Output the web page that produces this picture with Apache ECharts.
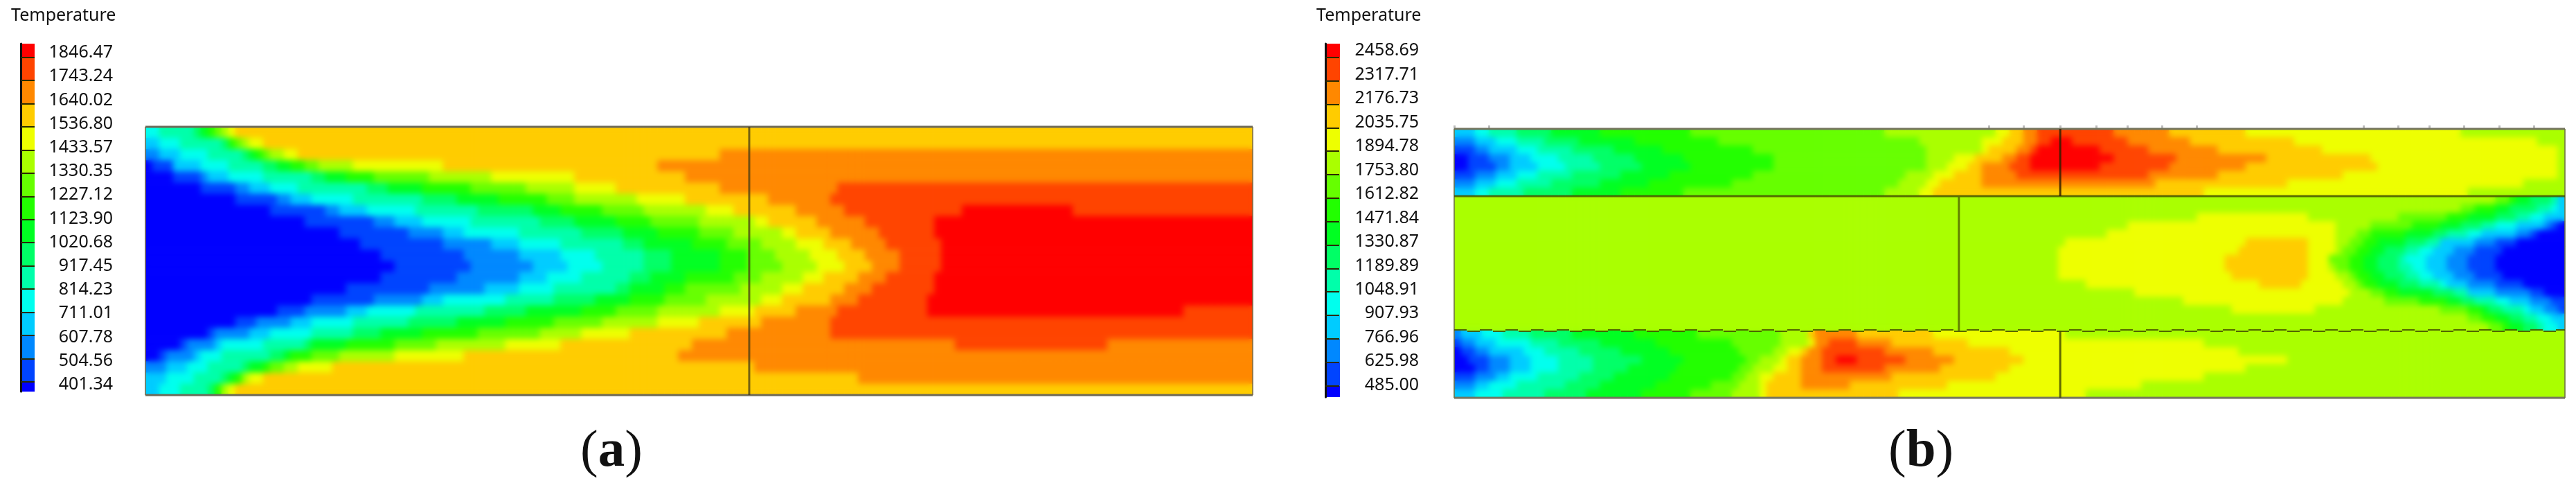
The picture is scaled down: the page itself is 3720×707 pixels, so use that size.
<!DOCTYPE html>
<html><head><meta charset="utf-8">
<style>html,body{margin:0;padding:0;background:#fff}#c{width:3720px;height:707px}
.soft{position:absolute;-webkit-backdrop-filter:blur(4px);backdrop-filter:blur(4px);pointer-events:none}</style>
<script src="https://cdn.jsdelivr.net/npm/echarts@6/dist/echarts.min.js"></script>
</head><body><div id="c"></div>
<script>
// Contour level labels (temperature), low to high
const levelsA=[401.34,504.56,607.78,711.01,814.23,917.45,1020.68,1123.90,1227.12,1330.35,1433.57,1536.80,1640.02,1743.24,1846.47];
const levelsB=[485.00,625.98,766.96,907.93,1048.91,1189.89,1330.87,1471.84,1612.82,1753.80,1894.78,2035.75,2176.73,2317.71,2458.69];
const bandColors=['#0000ff','#0044ff','#0088ff','#00ccff','#00ffee','#00ffaa','#00ff66','#00ff22','#22ff00','#66ff00','#aaff00','#eeff00','#ffcc00','#ff8800','#ff4400','#ff0000'];
const surfaceTicksB=[0,5,77,82,87.3,92.5,97,102,107,131,136,140.5,145.5,150.5,155.5];
// Each row: pairs of (colour band, column where that band ends)
const fieldA=[
[4,2,5,7,6,8,7,9,8,10,9,11,10,12,11,13,12,160],
[3,2,4,5,5,11,6,12,7,12,8,13,9,14,10,15,11,17,12,160],
[2,2,3,5,4,9,5,14,6,15,7,16,8,17,9,18,10,20,11,22,12,83,13,160],
[0,1,1,4,2,4,3,8,4,12,5,17,6,19,7,21,8,23,9,25,10,30,11,43,12,74,13,160],
[0,4,1,8,2,9,3,12,4,17,5,24,6,26,7,29,8,33,9,41,10,50,11,62,12,78,13,160],
[0,8,1,13,2,15,3,18,4,22,5,32,6,35,7,40,8,47,9,55,10,62,11,68,12,83,13,100,14,160],
[0,13,1,19,2,21,3,24,4,30,5,40,6,45,7,51,8,58,9,62,10,71,11,78,12,90,13,99,14,160],
[0,18,1,26,2,28,3,32,4,39,5,48,6,56,7,60,8,66,9,72,10,81,11,85,12,94,13,101,14,118,15,134,14,160],
[0,23,1,33,2,36,3,40,4,47,5,57,6,62,7,68,8,73,9,80,10,88,11,90,12,97,13,104,14,114,15,160],
[0,28,1,38,2,43,3,46,4,54,5,63,6,69,7,74,8,80,9,85,10,92,11,94,12,99,13,106,14,114,15,160],
[0,31,1,43,2,50,3,54,4,60,5,69,6,72,7,79,8,84,9,89,10,94,11,98,12,102,13,107,14,115,15,160],
[0,34,1,46,2,54,3,60,4,65,5,72,6,76,7,83,8,87,9,91,10,96,11,100,12,104,13,109,14,115,15,160],
[0,36,1,47,2,56,3,61,4,66,5,72,6,76,7,83,8,87,9,92,10,97,11,101,12,105,13,109,14,115,15,160],
[0,34,1,45,2,54,3,58,4,63,5,70,6,73,7,78,8,85,9,89,10,95,11,98,12,103,13,107,14,114,15,160],
[0,29,1,41,2,49,3,54,4,59,5,68,6,70,7,75,8,78,9,86,10,92,11,95,12,101,13,105,14,114,15,160],
[0,24,1,33,2,40,3,43,4,52,5,59,6,65,7,70,8,75,9,81,10,89,11,92,12,99,13,103,14,113,15,160],
[0,19,1,23,2,29,3,32,4,39,5,49,6,55,7,63,8,68,9,74,10,83,11,88,12,94,13,100,14,113,15,150,14,160],
[0,13,1,16,2,21,3,24,4,30,5,38,6,45,7,52,8,59,9,66,10,74,11,80,12,89,13,99,14,160],
[0,9,1,10,2,15,3,18,4,24,5,30,6,34,7,40,8,48,9,57,10,63,11,70,12,84,13,99,14,160],
[0,5,1,6,2,10,3,11,4,17,5,23,6,24,7,29,8,36,9,42,10,52,11,60,12,79,13,117,14,139,13,160],
[0,2,1,3,2,7,3,8,4,11,5,18,6,20,7,21,8,24,9,28,10,36,11,46,12,77,13,160],
[2,3,3,6,4,9,5,14,6,15,7,17,8,18,9,20,10,22,11,27,12,88,13,160],
[3,3,4,7,5,11,6,12,7,13,8,14,9,14,10,15,11,17,12,103,13,160],
[3,2,4,5,5,9,6,10,7,10,8,11,9,11,10,12,11,13,12,160]
];
const fieldBTop=[
[3,3,4,5,5,9,6,14,7,21,8,34,9,62,10,78,11,80,12,82,13,84,14,95,13,103,12,114,11,145,10,160],
[2,3,3,6,4,9,5,13,6,18,7,26,8,38,9,67,10,76,11,79,12,82,13,84,14,86,15,89,14,97,13,106,12,121,11,156,10,160],
[1,3,2,5,3,9,4,12,5,17,6,23,7,30,8,43,9,68,10,76,11,77,12,81,13,83,14,84,15,93,14,100,13,110,12,125,11,159,10,160],
[0,2,1,5,2,8,3,11,4,15,5,20,6,26,7,33,8,46,9,68,10,72,11,75,12,79,13,81,14,83,15,95,14,104,13,117,12,132,11,159,10,160],
[0,2,1,6,2,8,3,12,4,16,5,21,6,27,7,34,8,46,9,68,10,71,11,74,12,76,13,80,14,83,15,93,14,103,13,114,12,133,11,159,10,160],
[1,3,2,6,3,9,4,12,5,17,6,24,7,31,8,43,9,65,10,69,11,72,12,76,13,81,14,100,13,110,12,128,11,159,10,160],
[2,3,3,6,4,9,5,14,6,21,7,28,8,40,9,64,10,68,11,70,12,76,13,101,12,120,11,154,10,160],
[3,3,4,5,5,10,6,17,7,24,8,33,9,62,10,67,11,69,12,108,11,146,10,160]
];
const fieldBMid=[
[10,150,9,152,8,153,7,155,6,158,5,159,3,160],
[10,145,9,147,8,150,7,152,6,156,5,158,4,159,3,160],
[10,107,11,123,10,136,9,143,8,146,7,150,6,153,5,155,4,157,3,160],
[10,97,11,127,10,132,9,138,8,142,7,145,6,148,5,150,4,153,3,157,2,158,1,159,0,160],
[10,94,11,127,10,130,9,132,8,137,7,141,6,143,5,146,4,148,3,153,2,155,1,156,0,160],
[10,88,11,114,12,123,11,127,10,129,9,131,8,133,7,137,6,140,5,142,4,142,3,147,2,150,1,153,0,160],
[10,87,11,113,12,123,11,127,10,128,9,130,8,132,7,134,6,137,5,139,4,141,3,144,2,147,1,151,0,160],
[10,87,11,111,12,123,11,126,9,129,8,131,7,133,6,136,5,137,4,140,3,143,2,146,1,150,0,160],
[10,87,11,111,12,123,11,126,10,127,9,129,8,131,7,133,6,136,5,138,4,140,3,143,2,146,1,150,0,160],
[10,87,11,112,12,123,11,127,10,129,9,130,8,132,7,134,6,137,5,139,4,141,3,144,2,147,1,151,0,160],
[10,91,11,116,12,122,11,128,10,130,9,131,8,133,7,136,6,139,5,142,4,143,3,146,2,150,1,154,0,160],
[10,98,11,129,10,132,9,134,8,136,7,141,6,144,5,146,4,146,3,150,2,155,1,157,0,160],
[10,105,11,128,10,134,9,139,8,143,7,145,6,147,5,150,4,152,3,155,2,158,1,160],
[10,112,11,124,10,142,9,146,8,148,7,149,6,151,5,154,4,155,3,157,2,159,1,160],
[10,146,9,148,8,150,7,152,6,154,5,156,4,158,3,160],
[10,149,9,151,8,152,7,154,6,156,5,157,4,159,3,160]
];
const fieldBBottom=[
[2,1,3,4,4,7,5,11,6,17,7,26,8,35,9,47,10,51,12,52,13,58,12,69,11,88,10,160],
[1,1,2,3,3,6,4,11,5,15,6,21,7,29,8,40,9,47,10,51,11,52,13,54,14,58,13,63,12,74,11,108,10,160],
[0,1,1,3,2,5,3,10,4,13,5,18,6,24,7,31,8,41,9,46,10,48,11,50,12,51,13,53,14,62,13,69,12,80,11,113,10,160],
[0,2,1,5,2,8,3,11,4,15,5,20,6,27,7,33,8,42,9,44,10,47,11,48,12,50,13,53,14,55,15,58,14,65,13,72,12,82,11,120,10,160],
[0,3,1,5,2,8,3,11,4,15,5,20,6,25,7,32,8,41,9,43,10,46,11,48,12,50,13,53,14,62,13,70,12,80,11,114,10,160],
[1,3,2,6,3,8,4,12,5,18,6,23,7,31,8,40,9,42,10,44,11,46,12,50,13,63,12,78,11,108,10,160],
[2,3,3,5,4,9,5,16,6,21,7,29,8,37,9,41,10,44,11,45,12,50,13,57,12,71,11,99,10,160],
[3,3,4,7,5,13,6,19,7,27,8,34,9,40,10,44,11,45,12,64,11,91,10,160]
];

const COLS=160;
const font='"Noto Sans"';
function bandValue(levels,k){
  const step=levels[1]-levels[0];
  if(k===0) return levels[0]-step/2;
  if(k===15) return levels[14]+step/2;
  return (levels[k-1]+levels[k])/2;
}
function decode(rows,levels){
  const out=[];
  rows.forEach((r,j)=>{
    let c=0;
    for(let i=0;i<r.length;i+=2){
      for(;c<r[i+1];c++) out.push([c,j,bandValue(levels,r[i])]);
    }
  });
  return out;
}
function pieces(levels){
  const p=[{lt:levels[0],color:bandColors[0]}];
  for(let i=0;i<14;i++) p.push({gte:levels[i],lt:levels[i+1],color:bandColors[i+1]});
  p.push({gte:levels[14],color:bandColors[15]});
  return p;
}
const fieldB=fieldBTop.concat(fieldBMid,fieldBBottom);
const range=n=>Array.from({length:n},(_,i)=>String(i));
const option={animation:false,backgroundColor:'#fff',
  title:[],grid:[],xAxis:[],yAxis:[],series:[],visualMap:[]};

function colorBar(levels,rect,barMin,barMax,labMin,labMax){
  const g=option.grid.length; option.grid.push({left:rect.left,top:rect.top,width:rect.width,height:rect.height});
  const x=option.xAxis.length; option.xAxis.push({gridIndex:g,type:'category',data:['t'],show:false});
  const y=option.yAxis.length;
  option.yAxis.push({gridIndex:g,type:'value',min:barMin,max:barMax,position:'left',z:5,splitLine:{show:false},
    axisLine:{show:true,lineStyle:{color:'#111',width:3}},axisLabel:{show:false},
    axisTick:{show:true,inside:true,length:20,customValues:levels,lineStyle:{color:'#2a2a00',width:2}}});
  option.yAxis.push({gridIndex:g,type:'value',min:labMin,max:labMax,position:'right',splitLine:{show:false},
    axisLine:{show:false},axisTick:{show:false},
    axisLabel:{show:true,customValues:levels,align:'right',margin:rect.labelMargin,color:'#111',fontFamily:font,fontSize:25,
      formatter:v=>v.toFixed(2)}});
  bandColors.forEach((col,k)=>{
    const lo=k===0?0:levels[k-1], hi=k===15?levels[14]+500:levels[k];
    option.series.push({type:'bar',stack:'b'+g,xAxisIndex:x,yAxisIndex:y,barWidth:'100%',data:[hi-lo],
      itemStyle:{color:col},silent:true});
  });
}
function lineSeg(x,y,pts,style){
  option.series.push({type:'line',zlevel:2,xAxisIndex:x,yAxisIndex:y,data:pts,symbol:'none',silent:true,clip:false,z:6,lineStyle:style});
}
function field(rows,levels,rect,ticks){
  const g=option.grid.length; option.grid.push(rect);
  const x=option.xAxis.length, y=option.yAxis.length, n=rows.length;
  option.xAxis.push({gridIndex:g,type:'category',data:range(COLS),show:false});
  option.yAxis.push({gridIndex:g,type:'category',data:range(n),inverse:true,show:false});
  option.xAxis.push({gridIndex:g,type:'value',min:0,max:COLS,position:'top',show:!!ticks,splitLine:{show:false},
    axisLine:{show:false},axisLabel:{show:false},
    axisTick:ticks?{show:true,length:5,customValues:ticks,lineStyle:{color:'#bdbdbd',width:3}}:{show:false}});
  option.yAxis.push({gridIndex:g,type:'value',min:0,max:n,inverse:true,show:false,splitLine:{show:false}});
  const si=option.series.length;
  option.series.push({type:'heatmap',xAxisIndex:x,yAxisIndex:y,data:decode(rows,levels),progressive:0,silent:true,emphasis:{disabled:true}});
  option.visualMap.push({type:'piecewise',show:false,seriesIndex:si,dimension:2,pieces:pieces(levels)});
  return {x:x+1,y:y+1,n};
}

colorBar(levelsA,{left:30,top:63,width:20,height:502,labelMargin:113},357.2,1907.6,370.6,1885.7);
colorBar(levelsB,{left:1914,top:63,width:21,height:510,labelMargin:114},416.7,2541.2,414.2,2500.8);

const A=field(fieldA,levelsA,{left:210,top:183,width:1599,height:387});
const B=field(fieldB,levelsB,{left:2100,top:186,width:1604,height:388},surfaceTicksB);

// frame and part boundaries of each panel
const frameRowsA=[0,A.n], frameRowsB=[0,B.n];
const frameStyle={color:'#6e6a58',width:3};
const edgeStyle={color:'rgba(120,105,70,0.75)',width:2};
frameRowsA.forEach(r=>lineSeg(A.x,A.y,[[0,r],[COLS,r]],frameStyle));
[0,COLS].forEach(c=>lineSeg(A.x,A.y,[[c,0],[c,A.n]],edgeStyle));
lineSeg(A.x,A.y,[[87.25,0],[87.25,A.n]],{color:'rgba(70,60,20,0.75)',width:3});
frameRowsB.forEach(r=>lineSeg(B.x,B.y,[[0,r],[COLS,r]],{color:'#74745e',width:3}));
[0,COLS].forEach(c=>lineSeg(B.x,B.y,[[c,0],[c,B.n]],{color:'rgba(110,115,70,0.8)',width:2}));
lineSeg(B.x,B.y,[[0,8],[COLS,8]],{color:'rgba(70,85,0,0.85)',width:3});
lineSeg(B.x,B.y,[[0,23.92],[COLS,23.92]],{color:'rgba(70,85,0,0.9)',width:2,type:[18,19]});
lineSeg(B.x,B.y,[[0,24.08],[COLS,24.08]],{color:'rgba(70,85,0,0.9)',width:2,type:[18,19],dashOffset:18});
lineSeg(B.x,B.y,[[72.7,8],[72.7,24]],{color:'rgba(90,115,0,0.9)',width:3});
lineSeg(B.x,B.y,[[87.3,0],[87.3,8]],{color:'rgba(50,30,0,0.85)',width:3});
lineSeg(B.x,B.y,[[87.3,24],[87.3,32]],{color:'rgba(70,80,0,0.85)',width:3});

const head={fontFamily:font,fontSize:25,fontWeight:'normal',color:'#111'};
const rich={p:{fontFamily:'"Liberation Serif"',fontSize:77,fontWeight:'normal',color:'#111'},b:{fontFamily:'"Liberation Serif"',fontSize:77,fontWeight:'bold',color:'#111'}};
option.title=[
 {text:'Temperature',left:16,top:10,padding:0,textStyle:head},
 {text:'Temperature',left:1901,top:10,padding:0,textStyle:head},
 {text:'{p|(}{b|a}{p|)}',left:838,top:614,padding:0,textStyle:{rich}},
 {text:'{p|(}{b|b}{p|)}',left:2727,top:614,padding:0,textStyle:{rich}}
];
const chart=echarts.init(document.getElementById('c'),null,{renderer:'canvas',width:3720,height:707});
chart.setOption(option);
// soften the stepped band edges inside each panel, like the soft contours of the source picture;
// the soft layers sit between the heat canvas and the canvas holding the frame lines
const softRects=[[210,183,1599,387],[2100,186,1604,97],[2100,283,1604,194],[2100,477,1604,97]];
const root=document.querySelector('#c > div');
const topCanvas=root.querySelector('canvas[data-zr-dom-id="zr_2"]');
softRects.forEach(r=>{
  const d=document.createElement('div'); d.className='soft';
  d.style.left=r[0]+'px'; d.style.top=r[1]+'px'; d.style.width=r[2]+'px'; d.style.height=r[3]+'px';
  root.insertBefore(d,topCanvas);
});
</script></body></html>
